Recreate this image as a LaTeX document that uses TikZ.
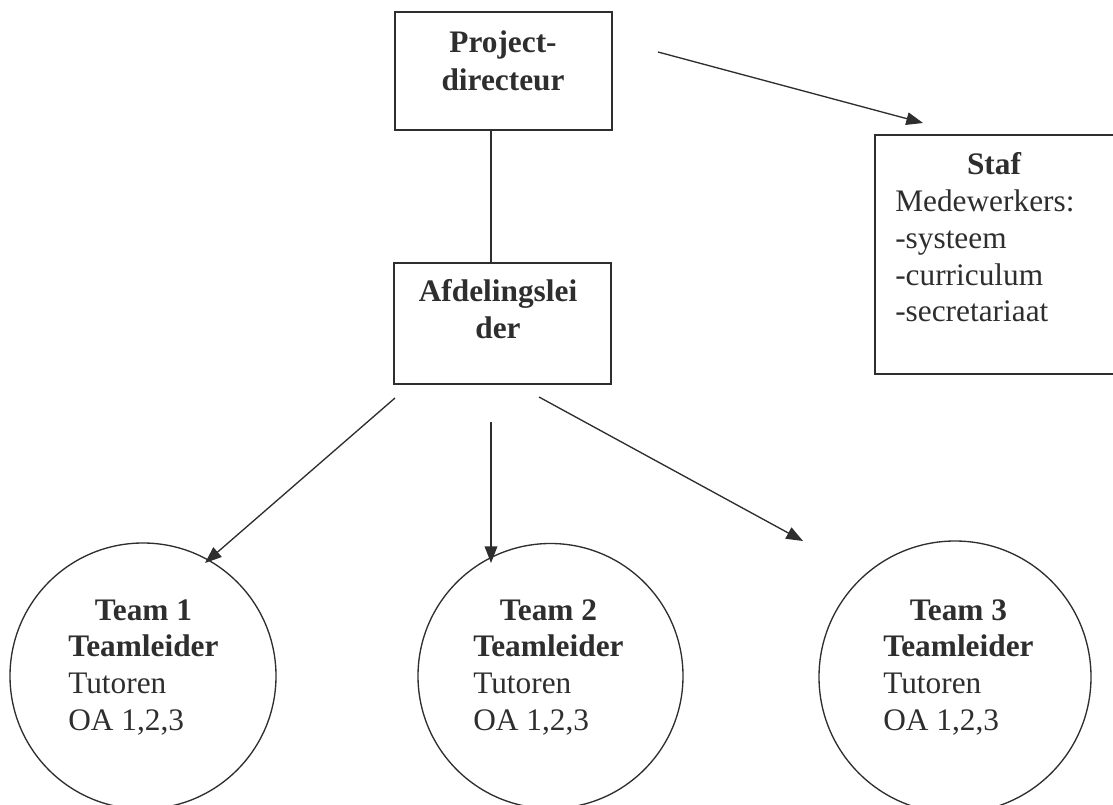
\documentclass[tikz,border=0pt]{standalone}
\usepackage{fontspec}
\setmainfont{Liberation Serif}
\usetikzlibrary{arrows.meta}
\definecolor{ink}{HTML}{2E2E2E}
\begin{document}
\begin{tikzpicture}[x=0.75pt,y=-0.75pt,
  boxst/.style={draw=ink, line width=1pt, rectangle, inner sep=0pt},
  teamst/.style={draw=ink, line width=1pt, circle, inner sep=0pt},
  txt/.style={text=ink, inner sep=0pt, font=\fontsize{23.5}{27.5}\selectfont},
  conn/.style={draw=ink, line width=1pt, -{Triangle[length=12.5pt,width=9.5pt]}},
  barconn/.style={draw=ink, line width=1pt, -{Bar[width=10pt]}}]
\useasboundingbox (0,0) rectangle (1113,805);

% boxes
\node[boxst, minimum width=162.75pt, minimum height=88.5pt] (pd) at (503.5,71) {};
\node[txt, font=\fontsize{23.5}{28.5}\selectfont, anchor=base] (pdt) at (503,53)
  {\begin{tabular}[t]{@{}c@{}}\bfseries Project-\\\bfseries directeur\end{tabular}};

\node[boxst, minimum width=162.75pt, minimum height=90.75pt] (al) at (502.5,323.5) {};
\node[txt, font=\fontsize{23.5}{27.75}\selectfont, anchor=base] (alt) at (498,302)
  {\begin{tabular}[t]{@{}c@{}}\bfseries Afdelingslei\\\bfseries der\end{tabular}};

\node[boxst, minimum width=180.75pt, minimum height=179.25pt] (staf) at (995.5,254.5) {};
\node[txt, anchor=base] (staft) at (994,175) {\bfseries Staf};
\node[txt, anchor=base west] (stafl) at (895,212)
  {\begin{tabular}[t]{@{}l@{}}Medewerkers:\\-systeem\\-curriculum\\-secretariaat\end{tabular}};

% teams
\node[teamst, minimum size=199.5pt] (t1) at (143,676) {};
\node[teamst, minimum size=198.75pt] (t2) at (550.5,676) {};
\node[teamst, minimum size=204pt] (t3) at (955,677) {};

\node[txt, anchor=base west] (t1t) at (68,620)
  {\begin{tabular}[t]{@{}l@{}}\multicolumn{1}{@{}c@{}}{\bfseries Team 1}\\\bfseries Teamleider\\Tutoren\\OA 1,2,3\end{tabular}};
\node[txt, anchor=base west] (t2t) at (473,620)
  {\begin{tabular}[t]{@{}l@{}}\multicolumn{1}{@{}c@{}}{\bfseries Team 2}\\\bfseries Teamleider\\Tutoren\\OA 1,2,3\end{tabular}};
\node[txt, anchor=base west] (t3t) at (883,620)
  {\begin{tabular}[t]{@{}l@{}}\multicolumn{1}{@{}c@{}}{\bfseries Team 3}\\\bfseries Teamleider\\Tutoren\\OA 1,2,3\end{tabular}};

% connector end points
\coordinate (pdS) at (658,52);
\coordinate (stafE) at (923,123);
\coordinate (pdB) at (491,130);
\coordinate (alT) at (491,263);
\coordinate (alL) at (395,398);
\coordinate (t1E) at (205,563);
\coordinate (alM) at (491,422);
\coordinate (t2E) at (491,563);
\coordinate (alR) at (539,397);
\coordinate (t3E) at (803,541);

\draw[conn] (pdS) -- (stafE);
\draw[barconn] (pdB) -- (alT);
\draw[conn] (alL) -- (t1E);
\draw[conn] (alM) -- (t2E);
\draw[conn] (alR) -- (t3E);
\end{tikzpicture}
\end{document}
